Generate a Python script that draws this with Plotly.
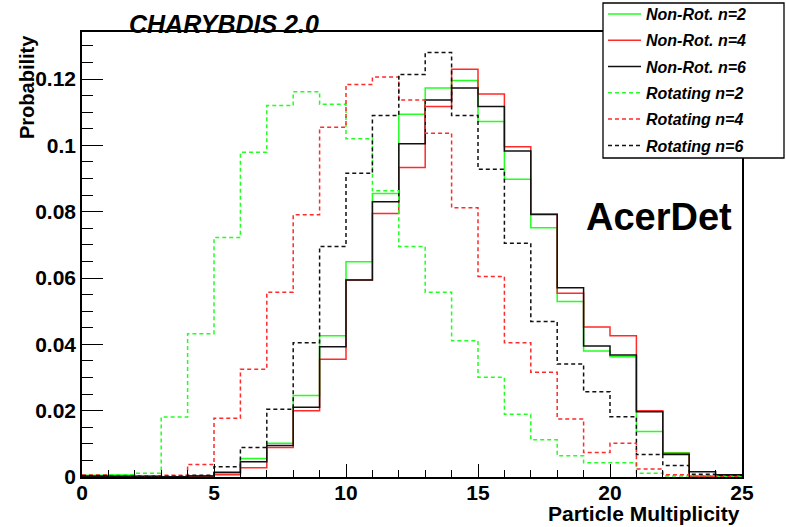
import plotly.graph_objects as go

# Bin edges of the multiplicity histograms (25 unit-wide bins from 0 to 25)
bin_edges = list(range(0, 26))

# Normalised multiplicity distributions, one value per bin
nonrot_n2 = [0.0005, 0.0006, 0.0002, 0.0001, 0.0004, 0.0011, 0.0056, 0.0102, 0.0246, 0.0426,
             0.0649, 0.0855, 0.1094, 0.1173, 0.1196, 0.1072, 0.0898, 0.0752, 0.0529, 0.0380,
             0.0363, 0.0137, 0.0073, 0.0002, 0.0002]
nonrot_n4 = [0.0003, 0.0001, 0.0001, 0.0000, 0.0002, 0.0007, 0.0028, 0.0089, 0.0200, 0.0355,
             0.0594, 0.0795, 0.0933, 0.1117, 0.1230, 0.1155, 0.0996, 0.0793, 0.0554, 0.0452,
             0.0426, 0.0200, 0.0071, 0.0002, 0.0006]
nonrot_n6 = [0.0002, 0.0002, 0.0002, 0.0001, 0.0003, 0.0014, 0.0046, 0.0095, 0.0210, 0.0393,
             0.0594, 0.0830, 0.1005, 0.1137, 0.1173, 0.1117, 0.0983, 0.0792, 0.0571, 0.0395,
             0.0368, 0.0197, 0.0068, 0.0016, 0.0007]
rot_n2 = [0.0005, 0.0007, 0.0011, 0.0181, 0.0432, 0.0722, 0.0979, 0.1120, 0.1162, 0.1124,
          0.1020, 0.0863, 0.0695, 0.0557, 0.0411, 0.0301, 0.0189, 0.0112, 0.0064, 0.0043,
          0.0043, 0.0011, 0.0003, 0.0001, 0.0001]
rot_n4 = [0.0006, 0.0003, 0.0003, 0.0005, 0.0038, 0.0177, 0.0325, 0.0557, 0.0791, 0.1055,
          0.1184, 0.1206, 0.1137, 0.1037, 0.0812, 0.0605, 0.0405, 0.0316, 0.0175, 0.0074,
          0.0102, 0.0024, 0.0007, 0.0003, 0.0002]
rot_n6 = [0.0004, 0.0002, 0.0002, 0.0002, 0.0005, 0.0031, 0.0089, 0.0204, 0.0405, 0.0695,
          0.0916, 0.1090, 0.1214, 0.1280, 0.1090, 0.0928, 0.0705, 0.0469, 0.0341, 0.0257,
          0.0182, 0.0068, 0.0035, 0.0008, 0.0005]

series_names = ["Non-Rot. n=2", "Non-Rot. n=4", "Non-Rot. n=6",
                "Rotating n=2", "Rotating n=4", "Rotating n=6"]

# Axis ticks
x_tickvals = [0, 5, 10, 15, 20, 25]
x_ticktext = ["0", "5", "10", "15", "20", "25"]
y_tickvals = [0, 0.02, 0.04, 0.06, 0.08, 0.10, 0.12]
y_ticktext = ["0", "0.02", "0.04", "0.06", "0.08", "0.1", "0.12"]

FONT = "Liberation Sans, Arial, Helvetica, sans-serif"

# plot frame in pixels
L, R, T, B = 82, 742, 32, 477
W, H = R - L, B - T

def px_x(p):
    return (p - L) / W

def px_y(p):
    return (B - p) / H

styles = [
    dict(color="#22ff22", dash="solid"),
    dict(color="#ff2a2a", dash="solid"),
    dict(color="#111111", dash="solid"),
    dict(color="#22ff22", dash="4px,3px"),
    dict(color="#ff2a2a", dash="4px,3px"),
    dict(color="#111111", dash="4px,3px"),
]
all_series = [nonrot_n2, nonrot_n4, nonrot_n6, rot_n2, rot_n4, rot_n6]

fig = go.Figure()
for i, (name, vals, st) in enumerate(zip(series_names, all_series, styles)):
    # step outline: each bin value held across its bin
    fig.add_trace(go.Scatter(
        x=bin_edges,
        y=vals + [vals[-1]],
        mode="lines",
        line=dict(color=st["color"], dash=st["dash"], width=1.5, shape="hv"),
        name=name,
        legendgroup=f"g{i}",
    ))

fig.update_layout(
    width=786, height=527,
    margin=dict(l=L, r=786 - R, t=T, b=527 - B, autoexpand=False),
    paper_bgcolor="white", plot_bgcolor="white",
    font=dict(family=FONT, color="black"),
    showlegend=True,
    legend=dict(
        x=px_x(603), y=px_y(-3),
        xanchor="left", yanchor="top",
        bgcolor="rgba(0,0,0,0)", borderwidth=0,
        font=dict(family=FONT, size=16, color="black", weight="bold", style="italic"),
        itemwidth=33, tracegroupgap=2.5,
    ),
    xaxis=dict(
        range=[0, 25], showgrid=False, zeroline=False,
        showline=True, linecolor="black", linewidth=1.5, mirror=True,
        ticks="inside", ticklen=13, tickwidth=1.2, tickcolor="black",
        tickvals=x_tickvals, ticktext=x_ticktext,
        tickfont=dict(family=FONT, size=21, weight="bold"),
        ticklabelstandoff=-4,
        minor=dict(ticks="inside", ticklen=7, dtick=1, tickcolor="black", tickwidth=1.2),
    ),
    yaxis=dict(
        range=[0, 0.1342], showgrid=False, zeroline=False,
        showline=True, linecolor="black", linewidth=1.5, mirror=True,
        ticks="inside", ticklen=21, tickwidth=1.2, tickcolor="black",
        tickvals=y_tickvals, ticktext=y_ticktext,
        tickfont=dict(family=FONT, size=21, weight="bold"),
        minor=dict(ticks="inside", ticklen=11, dtick=0.005, tickcolor="black", tickwidth=1.2),
    ),
    shapes=[
        # legend frame, drawn over the plot frame
        dict(type="rect", xref="paper", yref="paper",
             x0=px_x(603), x1=px_x(784), y0=px_y(158), y1=px_y(3),
             fillcolor="white", line=dict(color="black", width=1.3), layer="above"),
    ],
    annotations=[
        dict(text="CHARYBDIS 2.0", xref="paper", yref="paper",
             x=px_x(224), y=1.0, xanchor="center", yanchor="bottom", yshift=-8,
             showarrow=False,
             font=dict(family=FONT, size=25, weight="bold", style="italic")),
        dict(text="Probability", xref="paper", yref="paper",
             x=px_x(27), y=px_y(33), xanchor="center", yanchor="top",
             textangle=-90, showarrow=False,
             font=dict(family=FONT, size=20, weight="bold")),
        dict(text="Particle Multiplicity", xref="paper", yref="paper",
             x=1.0, y=px_y(513), xanchor="right", yanchor="middle",
             showarrow=False,
             font=dict(family=FONT, size=21, weight="bold")),
        dict(text="AcerDet", xref="paper", yref="paper",
             x=px_x(659), y=px_y(217), xanchor="center", yanchor="middle",
             showarrow=False,
             font=dict(family=FONT, size=38, weight="bold")),
    ],
)

fig.write_html("out.html")
